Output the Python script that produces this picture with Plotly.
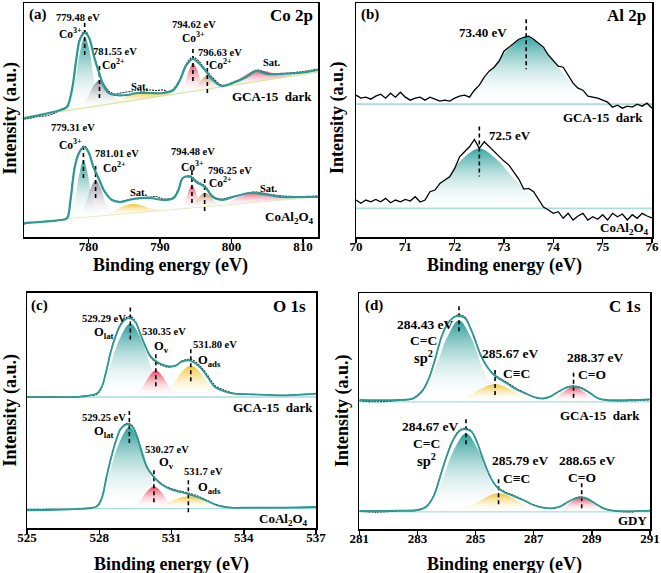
import plotly.graph_objects as go

FONT = "Liberation Serif"

# ======================= Panel (a) Co 2p =======================
a_gca_env_x = [771.0, 776.1, 777.0, 777.7, 778.3, 778.8, 779.5, 780.1, 780.8, 781.45, 782.1, 782.8, 783.7, 785.4,
               786.8, 788.6, 790.5, 791.9, 792.8, 793.7, 794.6, 795.4, 796.3, 797.4, 798.6, 800.2, 802.1, 803.5,
               804.9, 806.7, 809.5, 812.1]
a_gca_env_y = [118.7, 127, 130, 147, 177, 197, 204, 199, 180, 165, 152, 144, 142, 142,
               144, 144, 144, 147, 157, 172, 178, 174, 167, 157, 151, 154, 160, 166,
               163, 163, 164, 167]
a_gca_raw_x = [771, 772, 773, 774, 775, 776, 777, 777.7, 778.3, 778.8, 779.5, 780.1, 780.8, 781.45, 782.1, 782.8,
               783.7, 784.5, 785.4, 786.2, 786.8, 787.5, 788.6, 789.5, 790.5, 791.2, 791.9, 792.8, 793.7, 794.6,
               795.4, 796.3, 797.4, 798.6, 799.5, 800.2, 801, 802.1, 803.5, 804.9, 805.8, 806.7, 808, 809.5,
               810.5, 812]
a_gca_raw_y = [118, 119, 120.5, 121, 123, 127, 131, 148, 178, 198, 206, 200, 181, 166, 153, 146,
               143, 144, 145, 146, 147, 146, 147, 146.5, 147, 145, 148, 158, 173, 180,
               176, 168, 159, 152, 152.5, 155, 157, 161, 167, 164, 163, 163.5, 164, 165,
               166, 168]
a_gca_base_x = [771.0, 812.1]
a_gca_base_y = [119.8, 164.9]
a_gca_co3a_x = [776.8, 777.1, 778.0, 778.8, 779.5, 780.2, 780.9, 781.9, 782.2]
a_gca_co3a_y = [126, 129, 150, 184, 200, 185, 153, 135, 132]
a_gca_co2a_x = [778.15, 778.55, 779.75, 780.7, 781.55, 782.4, 783.35, 784.55, 784.95]
a_gca_co2a_y = [128, 129, 138, 151, 157, 152, 142, 136, 135]
a_gca_sat1_x = [781.9, 782.5, 784.3, 785.74, 787.0, 788.26, 789.7, 791.5, 792.1]
a_gca_sat1_y = [132, 133, 137, 142, 145, 145, 143, 143, 143]
a_gca_co3b_x = [792.52, 792.74, 793.49, 794.09, 794.62, 795.15, 795.75, 796.5, 796.72]
a_gca_co3b_y = [143.5, 144.8, 153.6, 167.0, 173.8, 168.2, 156.0, 148.9, 148.1]
a_gca_co2b_x = [793.83, 794.13, 795.13, 795.93, 796.63, 797.33, 798.13, 799.13, 799.43]
a_gca_co2b_y = [145.0, 145.9, 150.9, 158.1, 162, 159.7, 154.1, 151.3, 151.0]
a_gca_sat2_x = [797.9, 798.5, 800.5, 802.1, 803.5, 804.9, 806.5, 808.5, 809.1]
a_gca_sat2_y = [149.6, 150.6, 155.9, 162.7, 166.1, 165.8, 162.4, 161.5, 161.8]
a_gca_peaks = [779.48, 781.55, 794.62, 796.63]
a_gca_peak_h = [200, 157, 174, 162]

a_co_env_x = [771, 776.1, 777.0, 777.5, 778.1, 778.7, 779.4, 780.0, 780.7, 781.4, 782.3, 783.3, 784.4, 786.3,
              788.6, 790.5, 791.9, 792.6, 793.2, 794.3, 795.1, 796.3, 797.4, 798.6, 800.2, 802.6, 804.4, 807.2,
              809.5, 812.1]
a_co_env_y = [14, 17, 18.7, 37, 70, 84, 90, 85, 70, 59, 45, 37, 35, 38,
              39, 37, 39, 47, 59, 60, 55, 50, 40, 37, 40, 44, 43, 40,
              40, 40]
a_co_raw_x = [771, 773, 775, 776.1, 777, 777.5, 778.1, 778.7, 779.4, 780.0, 780.7, 781.4, 782.3, 783.3, 784.4,
              785.5, 786.3, 787.5, 788.6, 789.5, 790.5, 791.9, 792.6, 793.2, 794.3, 795.1, 796.3, 797.4, 798.6,
              800.2, 801.5, 802.6, 803.5, 804.4, 805.5, 807.2, 809.5, 812]
a_co_raw_y = [13, 15, 16, 17, 19, 38, 71, 85, 91, 86, 71, 60, 46, 37, 35.5,
              37, 38.5, 39, 40, 40.5, 38, 39.5, 48, 59, 61, 56, 51, 41, 38,
              40.5, 42.5, 44.5, 45, 44, 42.5, 41, 40.5, 41]
a_co_base_x = [771.0, 812.1]
a_co_base_y = [14.5, 40.0]
a_co_co3a_x = [777.06, 777.31, 778.11, 778.75, 779.31, 779.87, 780.51, 781.31, 781.56]
a_co_co3a_y = [18.3, 20.7, 37.1, 63.8, 76.7, 64.5, 38.6, 23.2, 21.1]
a_co_co2a_x = [778.21, 778.51, 779.51, 780.31, 781.01, 781.71, 782.51, 783.51, 783.81]
a_co_co2a_y = [19.0, 20.6, 31.3, 48.4, 56.7, 49.3, 33.1, 23.7, 22.4]
a_co_sat1_x = [781.2, 781.75, 783.45, 784.8, 786.0, 787.2, 788.55, 790.25, 790.8]
a_co_sat1_y = [20.8, 21.5, 25.5, 30.5, 33.0, 32.0, 28.8, 26.8, 26.8]
a_co_co3b_x = [792.78, 792.98, 793.58, 794.06, 794.48, 794.9, 795.38, 795.98, 796.18]
a_co_co3b_y = [28.0, 29.1, 35.9, 46.7, 52.1, 47.3, 37.1, 30.9, 30.2]
a_co_co2b_x = [793.45, 793.75, 794.75, 795.55, 796.25, 796.95, 797.75, 798.75, 799.05]
a_co_co2b_y = [28.4, 29.2, 33.7, 40.6, 44.2, 41.5, 35.6, 32.3, 31.9]
a_co_sat2_x = [796.8, 797.5, 799.7, 801.46, 803.0, 804.54, 806.3, 808.5, 809.2]
a_co_sat2_y = [30.5, 31.4, 35.5, 41.2, 44.3, 43.1, 39.6, 38.2, 38.2]
a_co_peaks = [779.31, 781.01, 794.48, 796.25]
a_co_peak_h = [77, 57, 52, 44]

# ======================= Panel (b) Al 2p =======================
b_x = [70.0, 70.1, 70.2, 70.3, 70.4, 70.5, 70.6, 70.7, 70.8, 70.9, 71.0, 71.1, 71.2, 71.3, 71.4, 71.5, 71.6,
       71.7, 71.8, 71.9, 72.0, 72.1, 72.2, 72.3, 72.4, 72.5, 72.6, 72.7, 72.8, 72.9, 73.0, 73.1, 73.2, 73.3,
       73.4, 73.5, 73.6, 73.7, 73.8, 73.9, 74.0, 74.1, 74.2, 74.3, 74.4, 74.5, 74.6, 74.7, 74.8, 74.9, 75.0,
       75.1, 75.2, 75.3, 75.4, 75.5, 75.6, 75.7, 75.8, 75.9, 76.0]
b_gca_raw = [142, 139, 140, 138, 141, 143, 139, 144, 140, 145, 140, 137, 139, 140, 137, 140, 138,
             136, 137, 136, 139, 141, 142, 140, 147, 152, 160, 166, 170, 176, 186, 190, 194, 198,
             200, 201, 198, 194, 190, 182, 176, 171, 170, 162, 154, 149, 147, 141, 140, 139, 137,
             135, 130, 132, 129, 131, 130, 133, 131, 134, 129]
b_co_raw = [37, 33.7, 37, 35.3, 37.7, 35.3, 38.7, 34.3, 37, 35.3, 37.7, 36, 40.3, 35, 37, 45.3, 47,
            53.7, 57, 60.3, 68.7, 80.3, 85.3, 90.3, 97.7, 88.7, 95.3, 90.3, 86, 80, 76, 72, 65, 58,
            48, 48.7, 45.3, 37.7, 30, 27, 23.7, 25.3, 18.7, 23.7, 17, 21, 23.7, 17, 20.3, 17.7, 22.3,
            17, 23.7, 20.3, 23, 17, 22.3, 18.7, 23.7, 21, 19]
b_gca_base = 133
b_co_base = 28.7
b_gca_fit_x = [71.5, 71.7, 72.2, 72.6, 73.03, 73.45, 73.87, 74.3, 74.7, 75.2, 75.4]
b_gca_fit_y = [133, 134, 140.4, 157.8, 185.3, 200, 185.3, 157.8, 140.4, 134, 133]
b_co_fit_x = [70.0, 70.3, 70.9, 71.4, 71.85, 72.15, 72.5, 72.85, 73.2, 73.65, 74.2, 75.0, 76.0]
b_co_fit_y = [29.8, 30.5, 33.5, 40.7, 59.9, 77.9, 88.7, 77.9, 58.7, 40.1, 32.9, 30.2, 29.3]
b_peaks_gca = [73.45]
b_peak_h_gca = [200]
b_peaks_co = [72.5]
b_peak_h_co = [88.7]

# ======================= Panel (c) O 1s =======================
c_gca_env_x = [525.0, 527.35, 527.9, 528.1, 528.3, 528.46, 528.67, 528.88, 529.08, 529.29, 529.5, 529.7, 529.9,
               530.1, 530.3, 530.6, 530.9, 531.2, 531.4, 531.7, 531.9, 532.2, 532.5, 532.8, 533.2, 533.6, 534.3,
               535.7, 537.0]
c_gca_env_y = [131.3, 132, 134.7, 141.3, 158, 174.7, 191.3, 203, 208.7, 210, 206.3, 194.7, 183,
               173, 168, 164, 162, 163, 166.3, 168, 166.3, 160.7, 151.3, 141.3, 137, 134.7, 134,
               133, 134.7]
c_gca_raw_x = [525, 526, 527, 527.35, 527.9, 528.1, 528.3, 528.46, 528.67, 528.88, 529.08, 529.29, 529.5, 529.7,
               529.9, 530.1, 530.3, 530.6, 530.9, 531.2, 531.4, 531.7, 531.9, 532.2, 532.5, 532.8, 533.2, 533.6,
               534.3, 535, 535.7, 536.5, 537]
c_gca_raw_y = [131, 131.5, 131, 132.5, 134, 141, 158, 175, 192, 204, 210, 212, 207, 195,
               183, 172, 167, 163, 161, 163, 167, 169, 168, 162, 153, 143, 138, 135,
               134, 133.5, 133, 134, 134.5]
c_gca_base = 131.3
c_gca_lat_x = [527.39, 527.66, 528.31, 528.83, 529.29, 529.75, 530.27, 530.92, 531.19]
c_gca_lat_y = [131.3, 134.2, 154.8, 188.6, 204.7, 188.6, 154.8, 134.2, 131.3]
c_gca_ov_x = [529.2, 529.35, 529.75, 530.07, 530.35, 530.63, 530.95, 531.35, 531.5]
c_gca_ov_y = [131.3, 132.4, 139.8, 152.1, 158, 152.1, 139.8, 132.4, 131.3]
c_gca_ads_x = [530.2, 530.42, 530.98, 531.42, 531.8, 532.19, 532.63, 533.18, 533.4]
c_gca_ads_y = [131.3, 132.6, 141.4, 156.0, 163.0, 156.0, 141.4, 132.6, 131.3]
c_gca_peaks = [529.29, 530.35, 531.80]
c_gca_peak_h = [204.7, 158, 163]

c_co_env_x = [525, 527.35, 527.9, 528.1, 528.3, 528.5, 528.7, 528.9, 529.15, 529.36, 529.57, 529.78, 529.98,
              530.26, 530.54, 530.9, 531.23, 531.64, 532.06, 532.47, 532.9, 533.44, 534.27, 535.66, 537]
c_co_env_y = [18, 19.7, 22, 29.7, 51.3, 71.3, 88, 99.7, 104, 102, 91.3, 74.7, 61.3,
              51.3, 44.7, 39.7, 37, 34.7, 31.3, 27.3, 23, 20.7, 20.7, 20.7, 21.3]
c_co_raw_x = [525, 526, 527.35, 527.9, 528.1, 528.3, 528.5, 528.7, 528.9, 529.15, 529.36, 529.57, 529.78, 529.98,
              530.26, 530.54, 530.9, 531.23, 531.64, 532.06, 532.47, 532.9, 533.44, 534.27, 535.66, 537]
c_co_raw_y = [18.5, 19, 19.5, 22, 30, 51, 71, 88, 100, 105, 103, 92, 75, 61,
              52, 45.5, 40.5, 38, 35.5, 32.5, 28, 23.5, 21, 20.5, 20.7, 21]
c_co_base = 19.7
c_co_lat_x = [527.35, 527.62, 528.27, 528.79, 529.25, 529.71, 530.23, 530.88, 531.15]
c_co_lat_y = [19.7, 23.0, 45.8, 83.3, 101.3, 83.3, 45.8, 23.0, 19.7]
c_co_ov_x = [529.12, 529.27, 529.67, 529.99, 530.27, 530.55, 530.87, 531.27, 531.42]
c_co_ov_y = [19.7, 20.6, 26.8, 37.1, 42.0, 37.1, 26.8, 20.6, 19.7]
c_co_ads_x = [529.7, 529.95, 530.65, 531.21, 531.7, 532.19, 532.75, 533.45, 533.7]
c_co_ads_y = [19.7, 20.2, 23.6, 29.3, 32.0, 29.3, 23.6, 20.2, 19.7]
c_co_peaks = [529.25, 530.27, 531.7]
c_co_peak_h = [101.3, 42, 32]

# ======================= Panel (d) C 1s =======================
d_gca_env_x = [281, 282.3, 282.86, 283.14, 283.37, 283.6, 283.83, 284.06, 284.29, 284.46, 284.64, 284.8, 284.98,
               285.15, 285.38, 285.6, 285.84, 286.07, 286.4, 286.76, 287.04, 287.33, 287.56, 287.85, 288.13,
               288.36, 288.65, 288.94, 289.22, 289.5, 290.3, 291]
d_gca_env_y = [129.3, 129.3, 131, 137.6, 149.3, 169.3, 192.6, 206.6, 212.6, 213.3, 211, 202.6, 189.3,
               176, 163.3, 155.3, 150, 146, 140, 135.3, 132, 131, 132.6, 137.6, 141.6,
               142.6, 141, 136, 131, 129.3, 129.3, 130]
d_gca_raw_x = [281, 281.5, 282.3, 282.86, 283.14, 283.37, 283.6, 283.83, 284.06, 284.29, 284.46, 284.64, 284.8,
               284.98, 285.15, 285.38, 285.6, 285.84, 286.07, 286.4, 286.76, 287.04, 287.33, 287.56, 287.85,
               288.13, 288.36, 288.65, 288.94, 289.22, 289.5, 290.3, 291]
d_gca_raw_y = [128.5, 127.5, 128.7, 131, 137, 149, 169, 193, 207, 213, 214.5, 212, 203,
               190, 176, 163, 156, 151, 147, 141, 135.5, 132, 130.5, 132.5, 137.5,
               142, 143.5, 141.5, 136.5, 131, 129, 128.5, 129.5]
d_gca_base = 127.5
d_gca_cc_x = [282.63, 282.88, 283.5, 284.0, 284.43, 284.86, 285.36, 285.98, 286.23]
d_gca_cc_y = [127.5, 130.7, 153.5, 190.7, 209, 190.7, 153.5, 130.7, 127.5]
d_gca_ct_x = [283.77, 284.05, 284.7, 285.22, 285.67, 286.13, 286.65, 287.3, 287.57]
d_gca_ct_y = [127.5, 128.2, 133, 141, 145.3, 141, 133, 128.2, 127.5]
d_gca_co_x = [287.22, 287.37, 287.77, 288.09, 288.37, 288.65, 288.97, 289.37, 289.52]
d_gca_co_y = [127.5, 128.1, 132.2, 138.9, 142.6, 138.9, 132.2, 128.1, 127.5]
d_gca_peaks = [284.43, 285.67, 288.37]
d_gca_peak_h = [209, 145.3, 142.6]

d_gdy_env_x = [281, 282.3, 283, 283.3, 283.55, 283.78, 284.0, 284.23, 284.46, 284.69, 284.86, 285.04, 285.27,
               285.5, 285.72, 285.95, 286.3, 286.64, 286.99, 287.33, 287.62, 287.9, 288.25, 288.59, 288.82,
               289.1, 289.4, 289.74, 291]
d_gdy_env_y = [18.3, 18.6, 19.3, 22.6, 32.6, 52.6, 72.6, 89.3, 98.6, 100, 97.6, 87.6, 69.3,
               52.6, 42.6, 37.6, 33.3, 29.3, 24.3, 21.6, 21, 22.6, 28.6, 31.9, 31,
               26, 21, 18.6, 18.6]
d_gdy_raw_x = [281, 281.6, 282.3, 283, 283.3, 283.55, 283.78, 284.0, 284.23, 284.46, 284.69, 284.86, 285.04,
               285.27, 285.5, 285.72, 285.95, 286.3, 286.64, 286.99, 287.33, 287.62, 287.9, 288.25, 288.59,
               288.82, 289.1, 289.4, 289.74, 290.3, 290.7, 291]
d_gdy_raw_y = [18, 17.2, 18.2, 19, 22.5, 33, 53, 73, 90, 99.5, 101, 98, 88,
               69, 53, 43, 38.5, 34, 29.5, 24.5, 21.5, 21, 22.5, 28.5, 32.5,
               31, 26, 21, 18.5, 17.3, 18.6, 18.2]
d_gdy_base = 17.5
d_gdy_cc_x = [282.87, 283.12, 283.74, 284.24, 284.67, 285.1, 285.6, 286.22, 286.47]
d_gdy_cc_y = [17.5, 20.6, 42.6, 78.7, 96, 78.7, 42.6, 20.6, 17.5]
d_gdy_ct_x = [283.89, 284.17, 284.82, 285.34, 285.79, 286.25, 286.77, 287.42, 287.69]
d_gdy_ct_y = [17.5, 18.2, 23.4, 31.9, 36, 31.9, 23.4, 18.2, 17.5]
d_gdy_co_x = [287.5, 287.65, 288.05, 288.37, 288.65, 288.93, 289.25, 289.65, 289.8]
d_gdy_co_y = [17.5, 18.1, 22.1, 28.8, 32, 28.8, 22.1, 18.1, 17.5]
d_gdy_peaks = [284.67, 285.79, 288.65]
d_gdy_peak_h = [96, 36, 32]

# ======================= styles =======================
TEAL = "#2c9e99"
GRAY = "#8a8898"
YELLOW = "#f1c232"
RED = "#e8405c"
BROWN = "#c98560"
PINK = "#ec5f76"
ENV = "#2b9a93"
BASE = "#a9dcdc"

fig = go.Figure()


def comp(x, y, color, ax, ay):
    fig.add_trace(go.Scatter(
        x=x, y=y, mode="lines", line=dict(width=0, color="rgba(0,0,0,0)", shape="spline", smoothing=1.0),
        fill="toself",
        fillgradient=dict(type="vertical", colorscale=[[0, "rgba(255,255,255,0)"], [1, color]]),
        xaxis=ax, yaxis=ay, hoverinfo="skip", showlegend=False))


def line(x, y, color, width, ax, ay, shape="spline", dash=None):
    fig.add_trace(go.Scatter(
        x=x, y=y, mode="lines", line=dict(width=width, color=color, shape=shape, dash=dash),
        xaxis=ax, yaxis=ay, hoverinfo="skip", showlegend=False))


def markers(centers, heights, up, down, ax, ay):
    for c, h in zip(centers, heights):
        line([c, c], [h + up, h - down], "black", 1.6, ax, ay, shape="linear", dash="4px,3px")


# ---- (a)
for xs, ys, col in [(a_gca_co3a_x, a_gca_co3a_y, TEAL), (a_gca_co2a_x, a_gca_co2a_y, GRAY),
                    (a_gca_sat1_x, a_gca_sat1_y, YELLOW), (a_gca_sat2_x, a_gca_sat2_y, PINK),
                    (a_gca_co3b_x, a_gca_co3b_y, RED), (a_gca_co2b_x, a_gca_co2b_y, BROWN),
                    (a_co_co3a_x, a_co_co3a_y, TEAL), (a_co_co2a_x, a_co_co2a_y, GRAY),
                    (a_co_sat1_x, a_co_sat1_y, YELLOW), (a_co_sat2_x, a_co_sat2_y, PINK),
                    (a_co_co3b_x, a_co_co3b_y, RED), (a_co_co2b_x, a_co_co2b_y, BROWN)]:
    comp(xs, ys, col, "x", "y")
line(a_gca_base_x, a_gca_base_y, "#d6e6a4", 1.2, "x", "y", shape="linear")
line(a_co_base_x, a_co_base_y, "#e2ecc0", 1.0, "x", "y", shape="linear")
markers(a_gca_peaks, a_gca_peak_h, 14, 20, "x", "y")
markers(a_co_peaks, a_co_peak_h, 14, 20, "x", "y")
line(a_gca_raw_x, a_gca_raw_y, "#222222", 1.1, "x", "y", dash="2px,1px")
line(a_co_raw_x, a_co_raw_y, "#222222", 1.1, "x", "y", dash="2px,1px")
line(a_gca_env_x, a_gca_env_y, ENV, 2.2, "x", "y")
line(a_co_env_x, a_co_env_y, ENV, 2.2, "x", "y")

# ---- (b)
comp(b_gca_fit_x, b_gca_fit_y, "#38a6a3", "x2", "y2")
comp(b_co_fit_x + [76.0, 70.0], b_co_fit_y + [b_co_base, b_co_base], "#38a6a3", "x2", "y2")
line([b_x[0], b_x[-1]], [b_gca_base, b_gca_base], BASE, 1.6, "x2", "y2", shape="linear")
line([b_x[0], b_x[-1]], [b_co_base, b_co_base], BASE, 1.6, "x2", "y2", shape="linear")
markers(b_peaks_gca, b_peak_h_gca, 18, 32, "x2", "y2")
markers(b_peaks_co, b_peak_h_co, 22, 28, "x2", "y2")
line(b_x, b_gca_raw, "black", 1.3, "x2", "y2", shape="linear")
line(b_x, b_co_raw, "black", 1.3, "x2", "y2", shape="linear")

# ---- (c)
for xs, ys, col in [(c_gca_lat_x, c_gca_lat_y, TEAL), (c_gca_ov_x, c_gca_ov_y, RED), (c_gca_ads_x, c_gca_ads_y, YELLOW),
                    (c_co_lat_x, c_co_lat_y, TEAL), (c_co_ov_x, c_co_ov_y, RED), (c_co_ads_x, c_co_ads_y, YELLOW)]:
    comp(xs, ys, col, "x3", "y3")
line([525, 537], [c_gca_base, c_gca_base], BASE, 1.3, "x3", "y3", shape="linear")
line([525, 537], [c_co_base, c_co_base], BASE, 1.3, "x3", "y3", shape="linear")
markers(c_gca_peaks, c_gca_peak_h, 16, 18, "x3", "y3")
markers(c_co_peaks, c_co_peak_h, 16, 18, "x3", "y3")
line(c_gca_raw_x, c_gca_raw_y, "#222222", 1.1, "x3", "y3", dash="2px,1px")
line(c_co_raw_x, c_co_raw_y, "#222222", 1.1, "x3", "y3", dash="2px,1px")
line(c_gca_env_x, c_gca_env_y, ENV, 1.8, "x3", "y3")
line(c_co_env_x, c_co_env_y, ENV, 1.8, "x3", "y3")

# ---- (d)
for xs, ys, col in [(d_gca_cc_x, d_gca_cc_y, TEAL), (d_gca_ct_x, d_gca_ct_y, YELLOW), (d_gca_co_x, d_gca_co_y, RED),
                    (d_gdy_cc_x, d_gdy_cc_y, TEAL), (d_gdy_ct_x, d_gdy_ct_y, YELLOW), (d_gdy_co_x, d_gdy_co_y, RED)]:
    comp(xs, ys, col, "x4", "y4")
line([281, 291], [d_gca_base, d_gca_base], BASE, 1.3, "x4", "y4", shape="linear")
line([281, 291], [d_gdy_base, d_gdy_base], BASE, 1.3, "x4", "y4", shape="linear")
markers(d_gca_peaks, d_gca_peak_h, 14, 12, "x4", "y4")
markers(d_gdy_peaks, d_gdy_peak_h, 14, 12, "x4", "y4")
line(d_gca_raw_x, d_gca_raw_y, "#222222", 1.1, "x4", "y4", dash="2px,1px")
line(d_gdy_raw_x, d_gdy_raw_y, "#222222", 1.1, "x4", "y4", dash="2px,1px")
line(d_gca_env_x, d_gca_env_y, ENV, 1.8, "x4", "y4")
line(d_gdy_env_x, d_gdy_env_y, ENV, 1.8, "x4", "y4")

# ======================= layout =======================
W, H = 661, 573


def px_x(v):
    return v / W


def px_y(v):
    return 1 - v / H


tickfont = dict(family=FONT, size=13, color="black", weight="bold")
common_x = dict(showline=True, mirror=True, linecolor="black", linewidth=1.5, ticks="outside", ticklen=4,
                tickwidth=1.5, tickcolor="black", showgrid=False, zeroline=False, tickfont=tickfont,
                automargin=False, ticklabelstandoff=-7)
common_y = dict(showline=True, mirror=True, linecolor="black", linewidth=1.5, ticks="", showticklabels=False,
                showgrid=False, zeroline=False, automargin=False)

fig.update_layout(
    template="none",
    width=W, height=H, margin=dict(l=0, r=0, t=0, b=0, pad=0, autoexpand=False),
    paper_bgcolor="white", plot_bgcolor="white", showlegend=False,
    xaxis=dict(common_x, domain=[px_x(24), px_x(318)], range=[771.0, 812.1], tickvals=[780, 790, 800, 810], anchor="y"),
    yaxis=dict(common_y, domain=[px_y(237), px_y(3)], range=[0, 234], anchor="x"),
    xaxis2=dict(common_x, domain=[px_x(356), px_x(652)], range=[70, 76], tickvals=[70, 71, 72, 73, 74, 75, 76], anchor="y2"),
    yaxis2=dict(common_y, domain=[px_y(237), px_y(3)], range=[0, 234.3], anchor="x2"),
    xaxis3=dict(common_x, domain=[px_x(27), px_x(316)], range=[525, 537], tickvals=[525, 528, 531, 534, 537], anchor="y3"),
    yaxis3=dict(common_y, domain=[px_y(528.3), px_y(292.7)], range=[0, 235.6], anchor="x3"),
    xaxis4=dict(common_x, domain=[px_x(359.3), px_x(650)], range=[281, 291], tickvals=[281, 283, 285, 287, 289, 291], anchor="y4"),
    yaxis4=dict(common_y, domain=[px_y(529.3), px_y(293)], range=[0, 236.3], anchor="x4"),
)


def txt(text, x, y, xr, yr, size, xanchor="center", bold=True, angle=0):
    fig.add_annotation(text=text, x=x, y=y, xref=xr, yref=yr, showarrow=False, textangle=angle,
                       font=dict(family=FONT, size=size, color="black", weight="bold" if bold else "normal"),
                       xanchor=xanchor, yanchor="middle")


NB = "\u00a0"
# axis titles
for (x0, x1), yy in [((24, 318), 265), ((356, 652), 265), ((27, 316), 564.5), ((359, 650), 564.5)]:
    txt("Binding energy (eV)", px_x((x0 + x1) / 2), px_y(yy), "paper", "paper", 18)
for xx, yy in [(9.5, 118), (337, 118), (9.5, 410), (342, 410)]:
    txt("Intensity (a.u.)", px_x(xx), px_y(yy), "paper", "paper", 18, angle=-90)

# panel labels
txt("(a)", px_x(27), px_y(15), "paper", "paper", 15, xanchor="left")
txt("Co 2p", px_x(315), px_y(16), "paper", "paper", 17, xanchor="right")
txt("(b)", px_x(359), px_y(15), "paper", "paper", 15, xanchor="left")
txt("Al 2p", px_x(648), px_y(16), "paper", "paper", 17, xanchor="right")
txt("(c)", px_x(29), px_y(305), "paper", "paper", 15, xanchor="left")
txt("O 1s", px_x(308), px_y(306), "paper", "paper", 17, xanchor="right")
txt("(d)", px_x(363), px_y(305), "paper", "paper", 15, xanchor="left")
txt("C 1s", px_x(643), px_y(306), "paper", "paper", 17, xanchor="right")

# (a) labels
fs = 10.5
txt("779.48 eV", 778.6, 219, "x", "y", fs)
txt("Co<sup>3+</sup>", 777.5, 204, "x", "y", fs + 1)
txt("781.55 eV", 783.7, 185, "x", "y", fs)
txt("Co<sup>2+</sup>", 783.5, 173, "x", "y", fs + 1)
txt("Sat.", 787.2, 150, "x", "y", fs)
txt("794.62 eV", 794.8, 212, "x", "y", fs)
txt("Co<sup>3+</sup>", 794.65, 200, "x", "y", fs + 1)
txt("796.63 eV", 798.4, 184, "x", "y", fs)
txt("Co<sup>2+</sup>", 798.5, 173, "x", "y", fs + 1)
txt("Sat.", 805.6, 174, "x", "y", fs)
txt("GCA-15" + NB + " dark", 805.7, 140, "x", "y", 13)
txt("779.31 eV", 777.9, 109, "x", "y", fs)
txt("Co<sup>3+</sup>", 777.5, 93, "x", "y", fs + 1)
txt("781.01 eV", 784.0, 83, "x", "y", fs)
txt("Co<sup>2+</sup>", 783.7, 70, "x", "y", fs + 1)
txt("Sat.", 787.1, 44, "x", "y", fs)
txt("794.48 eV", 794.65, 85, "x", "y", fs)
txt("Co<sup>3+</sup>", 794.5, 71, "x", "y", fs + 1)
txt("796.25 eV", 799.8, 66, "x", "y", fs)
txt("Co<sup>2+</sup>", 798.4, 55, "x", "y", fs + 1)
txt("Sat.", 805.3, 48, "x", "y", fs)
txt("CoAl<sub>2</sub>O<sub>4</sub>", 808.1, 19, "x", "y", 13)

# (b) labels
txt("73.40 eV", 72.58, 205, "x2", "y2", 13)
txt("72.5 eV", 73.12, 102, "x2", "y2", 13)
txt("GCA-15" + NB + " dark", 75.0, 120, "x2", "y2", 13)
txt("CoAl<sub>2</sub>O<sub>4</sub>", 75.45, 9, "x2", "y2", 13)

# (c) labels
fs = 10.5
txt("529.29 eV", 528.21, 210, "x3", "y3", fs)
txt("O<sub>lat</sub>", 528.18, 195, "x3", "y3", fs + 2)
txt("530.35 eV", 530.67, 197, "x3", "y3", fs)
txt("O<sub>v</sub>", 530.6, 181.6, "x3", "y3", fs + 2)
txt("531.80 eV", 532.8, 183.5, "x3", "y3", fs)
txt("O<sub>ads</sub>", 532.58, 167.5, "x3", "y3", fs + 2)
txt("GCA-15" + NB + " dark", 535.2, 121, "x3", "y3", 13)
txt("529.25 eV", 528.21, 111, "x3", "y3", fs)
txt("O<sub>lat</sub>", 528.18, 96.6, "x3", "y3", fs + 2)
txt("530.27 eV", 530.81, 79, "x3", "y3", fs)
txt("O<sub>v</sub>", 530.81, 65.6, "x3", "y3", fs + 2)
txt("531.7 eV", 532.34, 56.5, "x3", "y3", fs)
txt("O<sub>ads</sub>", 532.58, 40.6, "x3", "y3", fs + 2)
txt("CoAl<sub>2</sub>O<sub>4</sub>", 535.66, 9, "x3", "y3", 13)

# (d) labels
fs = 13.5
txt("284.43 eV", 283.26, 205, "x4", "y4", fs)
txt("C=C", 283.2, 189, "x4", "y4", fs)
txt("sp<sup>2</sup>", 283.2, 172.6, "x4", "y4", fs + 1)
txt("285.67 eV", 286.18, 175.5, "x4", "y4", fs)
txt("C\u2261C", 286.41, 155.5, "x4", "y4", fs)
txt("288.37 eV", 289.1, 171.5, "x4", "y4", fs)
txt("C=O", 288.99, 155, "x4", "y4", fs)
txt("GCA-15" + NB + " dark", 289.28, 114, "x4", "y4", 13)
txt("284.67 eV", 283.43, 102.6, "x4", "y4", fs)
txt("C=C", 283.32, 86, "x4", "y4", fs)
txt("sp<sup>2</sup>", 283.32, 69.3, "x4", "y4", fs + 1)
txt("285.79 eV", 286.53, 68.5, "x4", "y4", fs)
txt("C\u2261C", 286.41, 50.5, "x4", "y4", fs)
txt("288.65 eV", 288.82, 68.5, "x4", "y4", fs)
txt("C=O", 288.65, 52, "x4", "y4", fs)
txt("GDY", 290.43, 9.3, "x4", "y4", 13)

fig.write_html("out.html", config={"displayModeBar": False, "staticPlot": True},
               post_script="document.body.style.margin='0';document.body.style.padding='0';")
